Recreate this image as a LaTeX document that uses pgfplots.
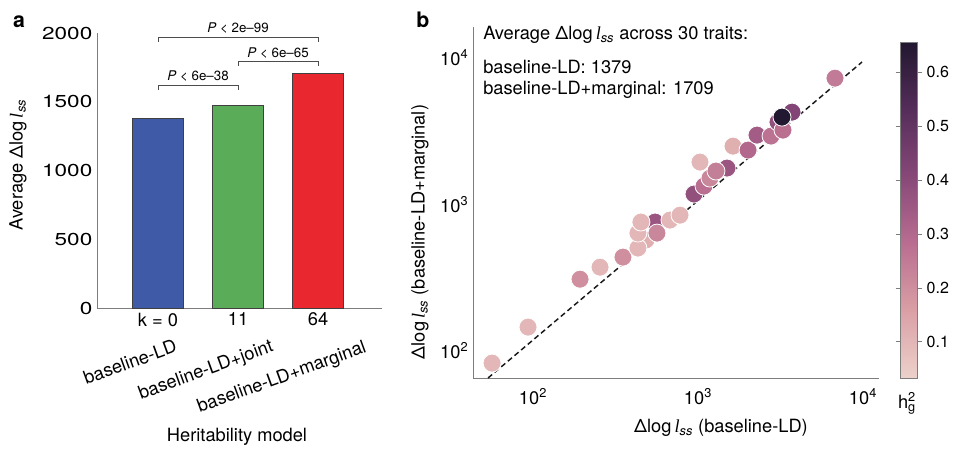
\documentclass[border=0pt]{standalone}
\usepackage{fontspec}
\setmainfont{TeX Gyre Heros}
\newfontfamily\widefont{TeX Gyre Heros}[FakeStretch=1.3]
\newfontfamily\serifit{Liberation Serif}
\usepackage{pgfplots}
\pgfplotsset{compat=1.18}
\usepackage{pgfplotstable}

\definecolor{barblue}{RGB}{63,91,168}
\definecolor{bargreen}{RGB}{90,172,88}
\definecolor{barred}{RGB}{233,39,47}
\definecolor{spine}{RGB}{125,125,125}

\newcommand{\dl}{Δlog\,{\serifit\itshape l}\textsubscript{\textit{ss}}}
\newcommand{\mainf}{\fontsize{13.7}{16}\selectfont}
\newcommand{\smallf}{\fontsize{10}{12}\selectfont}

\pgfplotsset{colormap={ch}{rgb255=(237,209,203) rgb255=(218,160,165) rgb255=(185,110,145) rgb255=(135,72,120) rgb255=(85,45,90) rgb255=(33,23,48)}}

\pgfplotstableread{
x y h
549 760 0.36
484 573 0.12
56.5 82.8 0.10
93.3 145.8 0.10
192.8 309.6 0.20
254.8 374 0.10
351 438 0.20
432.5 505 0.10
432.5 639 0.10
451 760 0.10
564 639 0.22
676 784 0.10
778 847 0.10
946 1180 0.38
1087 1337 0.28
1182 1517 0.22
1499 1776 0.36
1285 1694 0.24
1028 1950 0.10
1630 2506 0.12
2010 2355 0.30
2278 2981 0.34
2770 2936 0.27
3053 3659 0.38
3273 3226 0.28
3714 4276 0.42
3228 3955 0.65
6764 7295 0.25
}\scatterdata

\begin{document}
\begin{tikzpicture}[font=\mainf]
\path[use as bounding box] (0,0) rectangle (714.75pt,-337.5pt);
% ---------------- panel a ----------------
\begin{axis}[
  at={(72.75pt,-231pt)}, anchor=south west,
  scale only axis, width=213.75pt, height=206.25pt,
  xmin=-0.7625, xmax=2.8, ymin=0, ymax=2000,
  axis x line*=bottom, axis y line*=left,
  axis line style={spine, line width=0.6pt},
  xtick={0,1,2}, xticklabels={{k = 0},11,64},
  ytick={0,500,1000,1500,2000},
  major tick length=0pt,
  xticklabel style={font=\mainf},
  yticklabel style={font=\fontsize{13}{15}\selectfont\widefont},
  /pgf/number format/assume math mode=true,
  /pgf/number format/1000 sep={},
  clip=false,
]
\addplot[ybar, bar width=38.25pt, fill=barblue, draw=black!75, line width=0.5pt] coordinates {(0,1379)};
\addplot[ybar, bar width=38.25pt, fill=bargreen, draw=black!75, line width=0.5pt] coordinates {(1,1476)};
\addplot[ybar, bar width=38.25pt, fill=barred, draw=black!75, line width=0.5pt] coordinates {(2,1709)};
\draw[black!70, line width=0.7pt] (axis cs:0,1935) -- (axis cs:0,1964) -- (axis cs:2,1964) -- (axis cs:2,1935);
\draw[black!70, line width=0.7pt] (axis cs:1,1762) -- (axis cs:1,1796) -- (axis cs:2,1796) -- (axis cs:2,1762);
\draw[black!70, line width=0.7pt] (axis cs:0,1585) -- (axis cs:0,1622) -- (axis cs:1,1622) -- (axis cs:1,1585);
\node[font=\smallf] at (axis cs:1,2036) {\textit{P} < 2e–99};
\node[font=\smallf] at (axis cs:1.5,1855) {\textit{P} < 6e–65};
\node[font=\smallf] at (axis cs:0.5,1687) {\textit{P} < 6e–38};
\end{axis}
\node[rotate=20] at (97.5pt,-271.5pt) {baseline-LD};
\node[rotate=20] at (154.5pt,-278.25pt) {baseline-LD+joint};
\node[rotate=20] at (211.5pt,-283.5pt) {baseline-LD+marginal};
\node at (177.75pt,-327.75pt) {Heritability model};
\node[rotate=90] at (13.5pt,-123.75pt) {Average \dl};
\node[font=\fontsize{16}{18}\selectfont\bfseries] at (14.25pt,-16.5pt) {a};
\node[font=\fontsize{16}{18}\selectfont\bfseries] at (317.25pt,-15pt) {b};
% ---------------- panel b ----------------
\begin{axis}[
  at={(354.75pt,-283.5pt)}, anchor=south west,
  scale only axis, width=304.5pt, height=263.25pt,
  xmode=log, ymode=log,
  xmin=43.3, xmax=12500, ymin=65.5, ymax=16300,
  axis x line*=bottom, axis y line*=left,
  axis line style={spine, line width=0.6pt},
  xtick={100,1000,10000}, ytick={100,1000,10000},
  xticklabels={10\textsuperscript{2},10\textsuperscript{3},10\textsuperscript{4}},
  yticklabels={10\textsuperscript{2},10\textsuperscript{3},10\textsuperscript{4}},
  major tick length=0pt, minor tick length=0pt,
  tick label style={font=\mainf},
  xticklabel style={yshift=-4pt},
  colormap name=ch,
  point meta min=0.033, point meta max=0.656,
  colorbar,
  colorbar shift/.style={xshift=16pt},
  colorbar style={
    anchor=south west, at={(parent axis.south east)},
    scale only axis, width=12.75pt, height=252pt,
    ytick={0.1,0.2,0.3,0.4,0.5,0.6},
    yticklabel style={font=\fontsize{12}{14}\selectfont, /pgf/number format/fixed, /pgf/number format/precision=1, /pgf/number format/assume math mode=true},
    major tick length=3.5pt, tick align=outside,
    tick style={spine, line width=0.6pt},
    axis line style={spine, line width=0.4pt},
  },
]
\addplot[scatter, only marks, mark=*, mark size=6.75pt, line width=0.6pt,
  point meta=explicit,
  scatter/use mapped color={draw=white, fill=mapped color}]
  table[x=x, y=y, meta=h] {\scatterdata};
\addplot[black!90, line width=1.1pt, dash pattern=on 4pt off 2.5pt] coordinates {(53.4,65.5) (9860,9400)};
\end{axis}
\node[anchor=west, inner sep=0pt] at (362.25pt,-26.25pt) {Average \dl{} across 30 traits:};
\node[anchor=west, inner sep=0pt] at (362.25pt,-50.25pt) {baseline-LD: 1379};
\node[anchor=west, inner sep=0pt] at (362.25pt,-67.5pt) {baseline-LD+marginal: 1709};
\node at (540.75pt,-321pt) {\dl{} (baseline-LD)};
\node[rotate=90] at (315pt,-174pt) {\dl{} (baseline-LD+marginal)};
\node at (680.25pt,-302.25pt) {h\rlap{\textsuperscript{2}}\textsubscript{g}};
\end{tikzpicture}
\end{document}
